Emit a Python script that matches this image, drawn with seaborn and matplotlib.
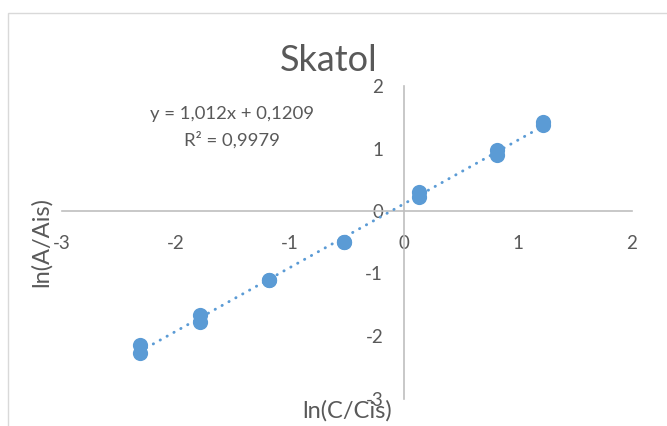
import numpy as np
import pandas as pd
import matplotlib
matplotlib.use("Agg")
import matplotlib.pyplot as plt
from matplotlib.patches import Rectangle
import seaborn as sns

# ---- data ----
ln_c = [-2.32, -2.32, -1.79, -1.79, -1.18, -1.18, -0.53, -0.53, 0.13, 0.13, 0.82, 0.82, 1.22, 1.22]
ln_a = [-2.14, -2.27, -1.66, -1.78, -1.10, -1.10, -0.49, -0.49, 0.31, 0.23, 0.97, 0.89, 1.42, 1.38]
x_ticks = [-3, -2, -1, 0, 1, 2]
y_ticks = [-3, -2, -1, 0, 1, 2]
title = "Skatol"
equation = "y = 1,012x + 0,1209\nR² = 0,9979"
x_label = "ln(C/Cis)"
y_label = "ln(A/Ais)"

df = pd.DataFrame({"x": ln_c, "y": ln_a})

sns.set_theme(style="white")
plt.rcParams["font.family"] = ["Lato", "DejaVu Sans"]

blue = "#5B9BD5"
grey_txt = "#595959"
axis_col = "#BFBFBF"

fig = plt.figure(figsize=(6.67, 4.26), dpi=100)
fig.patches.append(Rectangle((8 / 667, -0.1), 1.2, 1 - 13 / 426 + 0.1,
                             transform=fig.transFigure, fill=False,
                             edgecolor="#D9D9D9", linewidth=1.0))
ax = fig.add_axes([62 / 667, 1 - 398.5 / 426, 570 / 667, 312.5 / 426])
ax.set_facecolor("none")

sns.regplot(data=df, x="x", y="y", ax=ax, ci=None, truncate=True,
            scatter_kws=dict(s=120, color=blue, linewidths=0, alpha=1, zorder=3),
            line_kws=dict(color=blue, linewidth=2.1, linestyle=(0, (0.1, 2.6)),
                          dash_capstyle="round", zorder=4))

ax.set_xlim(-3, 2)
ax.set_ylim(-3, 2)
ax.set_xticks(x_ticks)
ax.set_yticks(y_ticks)
ax.set_xticklabels([str(v) for v in x_ticks])
ax.set_yticklabels([str(v) for v in y_ticks])

for s in ["top", "right"]:
    ax.spines[s].set_visible(False)
ax.spines["left"].set_position(("data", 0))
ax.spines["bottom"].set_position(("data", 0))
for s in ["left", "bottom"]:
    ax.spines[s].set_color(axis_col)
    ax.spines[s].set_linewidth(1.2)
ax.tick_params(axis="both", length=0, labelsize=13.5, labelcolor=grey_txt)
ax.tick_params(axis="x", pad=17)
ax.tick_params(axis="y", pad=15)

ax.set_xlabel(x_label, fontsize=17, color=grey_txt)
ax.set_ylabel(y_label, fontsize=17, color=grey_txt)
ax.xaxis.set_label_coords(0.5, -0.005)
ax.yaxis.set_label_coords(-0.017, 0.5)

ax.set_title(title, fontsize=26, color=grey_txt, x=0.468, pad=11)
ax.text(-1.51, 1.34, equation, ha="center", va="center", fontsize=13.3,
        color=grey_txt, linespacing=1.65)

fig.savefig("out.png", dpi=100)
